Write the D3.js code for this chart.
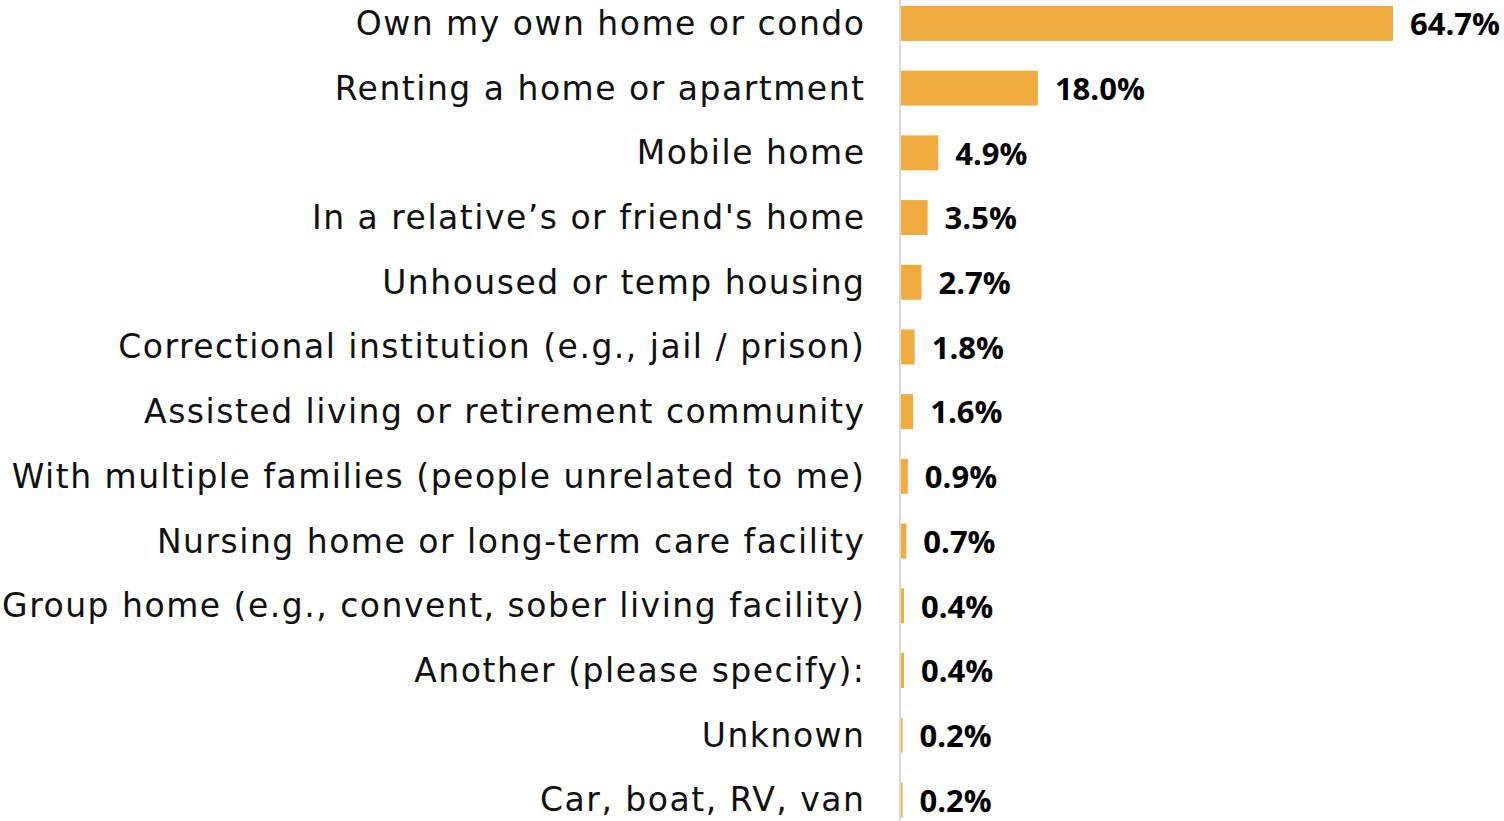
<!DOCTYPE html>
<html>
<head>
<meta charset="utf-8">
<script src="https://cdn.jsdelivr.net/npm/d3@7"></script>
<style>
  html, body { margin: 0; padding: 0; background: #fff; }
</style>
</head>
<body>
<div id="chart"></div>
<script>
(function () {

// Data
const categories = [
    "Own my own home or condo",
    "Renting a home or apartment",
    "Mobile home",
    "In a relative\u2019s or friend's home",
    "Unhoused or temp housing",
    "Correctional institution (e.g., jail / prison)",
    "Assisted living or retirement community",
    "With multiple families (people unrelated to me)",
    "Nursing home or long-term care facility",
    "Group home (e.g., convent, sober living facility)",
    "Another (please specify):",
    "Unknown",
    "Car, boat, RV, van"
];
const values = [64.7, 18.0, 4.9, 3.5, 2.7, 1.8, 1.6, 0.9, 0.7, 0.4, 0.4, 0.2, 0.2];

const width = 1504;
const height = 821;
const axisX = 901;

const svg = d3.select("#chart")
    .append("svg")
    .attr("width", width)
    .attr("height", height);

// Scales
const x = d3.scaleLinear()
    .domain([0, 64.7])
    .range([axisX, 1393]);

const y = d3.scaleBand()
    .domain(categories)
    .range([-23.8, 847.1])
    .paddingInner(0.46)
    .paddingOuter(0.46);

// Bars
svg.selectAll(".bar")
    .data(values)
    .enter()
    .append("rect")
    .attr("class", "bar")
    .attr("x", x(0))
    .attr("y", (d, i) => y(categories[i]))
    .attr("width", d => x(d) - x(0))
    .attr("height", y.bandwidth())
    .style("fill", "#f0ac3e");

// Axis line
svg.append("line")
    .attr("x1", axisX - 1)
    .attr("x2", axisX - 1)
    .attr("y1", 0)
    .attr("y2", height)
    .style("stroke", "#d9d9d9")
    .style("stroke-width", 2);

// Category labels (letter-spacing leaves a trailing gap, so nudge right)
svg.selectAll(".cat-label")
    .data(categories)
    .enter()
    .append("text")
    .attr("class", "cat-label")
    .attr("x", 865.5)
    .attr("y", d => y(d) + y.bandwidth() / 2)
    .attr("dy", "0.35em")
    .attr("text-anchor", "end")
    .style("font-family", "'DejaVu Sans', sans-serif")
    .style("font-size", "33px")
    .style("letter-spacing", "1.5px")
    .style("fill", "#111")
    .text(d => d);

// Value labels
svg.selectAll(".val-label")
    .data(values)
    .enter()
    .append("text")
    .attr("class", "val-label")
    .attr("x", d => x(d) + 17)
    .attr("y", (d, i) => y(categories[i]) + y.bandwidth() / 2)
    .attr("dy", "0.38em")
    .style("font-family", "'Open Sans', sans-serif")
    .style("font-weight", "bold")
    .style("font-size", "31px")
    .style("fill", "#000")
    .text(d => d.toFixed(1) + "%");

})();
</script>
</body>
</html>
